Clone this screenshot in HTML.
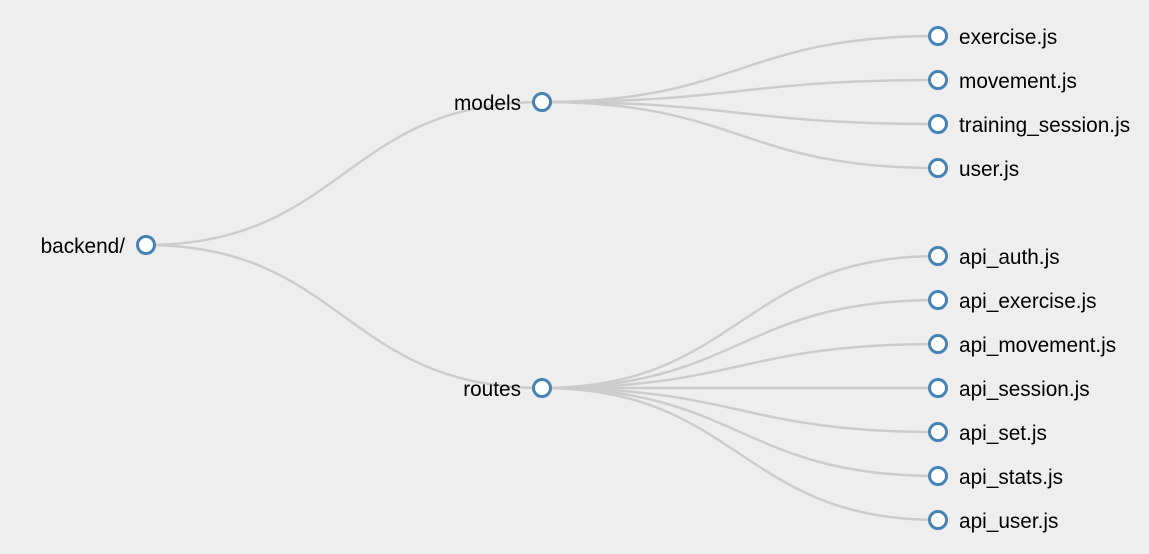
<!DOCTYPE html>
<html><head><meta charset="utf-8"><style>
html,body{margin:0;padding:0;background:#eeeeee;}
svg{display:block;}
text{font-family:"Liberation Sans",sans-serif;font-size:20.8px;fill:#000;}
</style></head><body>
<svg id="chart" width="1149" height="554" viewBox="0 0 1149 554"></svg>
<script>
const nodeNames = ["backend/","models","routes","exercise.js","movement.js","training_session.js","user.js","api_auth.js","api_exercise.js","api_movement.js","api_session.js","api_set.js","api_stats.js","api_user.js"];
const nodeParents = [-1,0,0,1,1,1,1,2,2,2,2,2,2,2];
const nodeDepth = [0,1,1,2,2,2,2,2,2,2,2,2,2,2];
const nodeRow = [245,102,388,36,80,124,168,256,300,344,388,432,476,520];
const depthX = d => 146 + d*396;
const rowY = r => r;
const svg = document.getElementById('chart');
const NS = "http://www.w3.org/2000/svg";
const gL = document.createElementNS(NS,'g');


svg.appendChild(gL);
const gN = document.createElementNS(NS,'g');


svg.appendChild(gN);
for(let i=0;i<nodeNames.length;i++){
  const p = nodeParents[i];
  if(p<0) continue;
  const sx=depthX(nodeDepth[p]), sy=rowY(nodeRow[p]), tx=depthX(nodeDepth[i]), ty=rowY(nodeRow[i]);
  const mx=(sx+tx)/2;
  const path=document.createElementNS(NS,'path');
  path.setAttribute('d',`M${sx},${sy}C${mx},${sy} ${mx},${ty} ${tx},${ty}`);
  path.setAttribute('fill','none');
  path.setAttribute('stroke','#cccccc');
  path.setAttribute('stroke-width','2.5');
  
  
  gL.appendChild(path);
}
for(let i=0;i<nodeNames.length;i++){
  const x=depthX(nodeDepth[i]), y=rowY(nodeRow[i]);
  const leaf = nodeDepth[i]===2;
  const g=document.createElementNS(NS,'g');
  
  
  const c=document.createElementNS(NS,'circle');
  c.setAttribute('cx',x);c.setAttribute('cy',y);c.setAttribute('r','8.5');
  c.setAttribute('fill','#fff');c.setAttribute('stroke','#4682b4');c.setAttribute('stroke-width','3');
  
  
  g.appendChild(c);
  const t=document.createElementNS(NS,'text');
  t.setAttribute('x', leaf ? x+21 : x-21);
  t.setAttribute('y', y+8);
  t.setAttribute('text-anchor', leaf ? 'start' : 'end');
  t.textContent=nodeNames[i];
  
  
  g.appendChild(t);
  gN.appendChild(g);
}
</script>
</body></html>
